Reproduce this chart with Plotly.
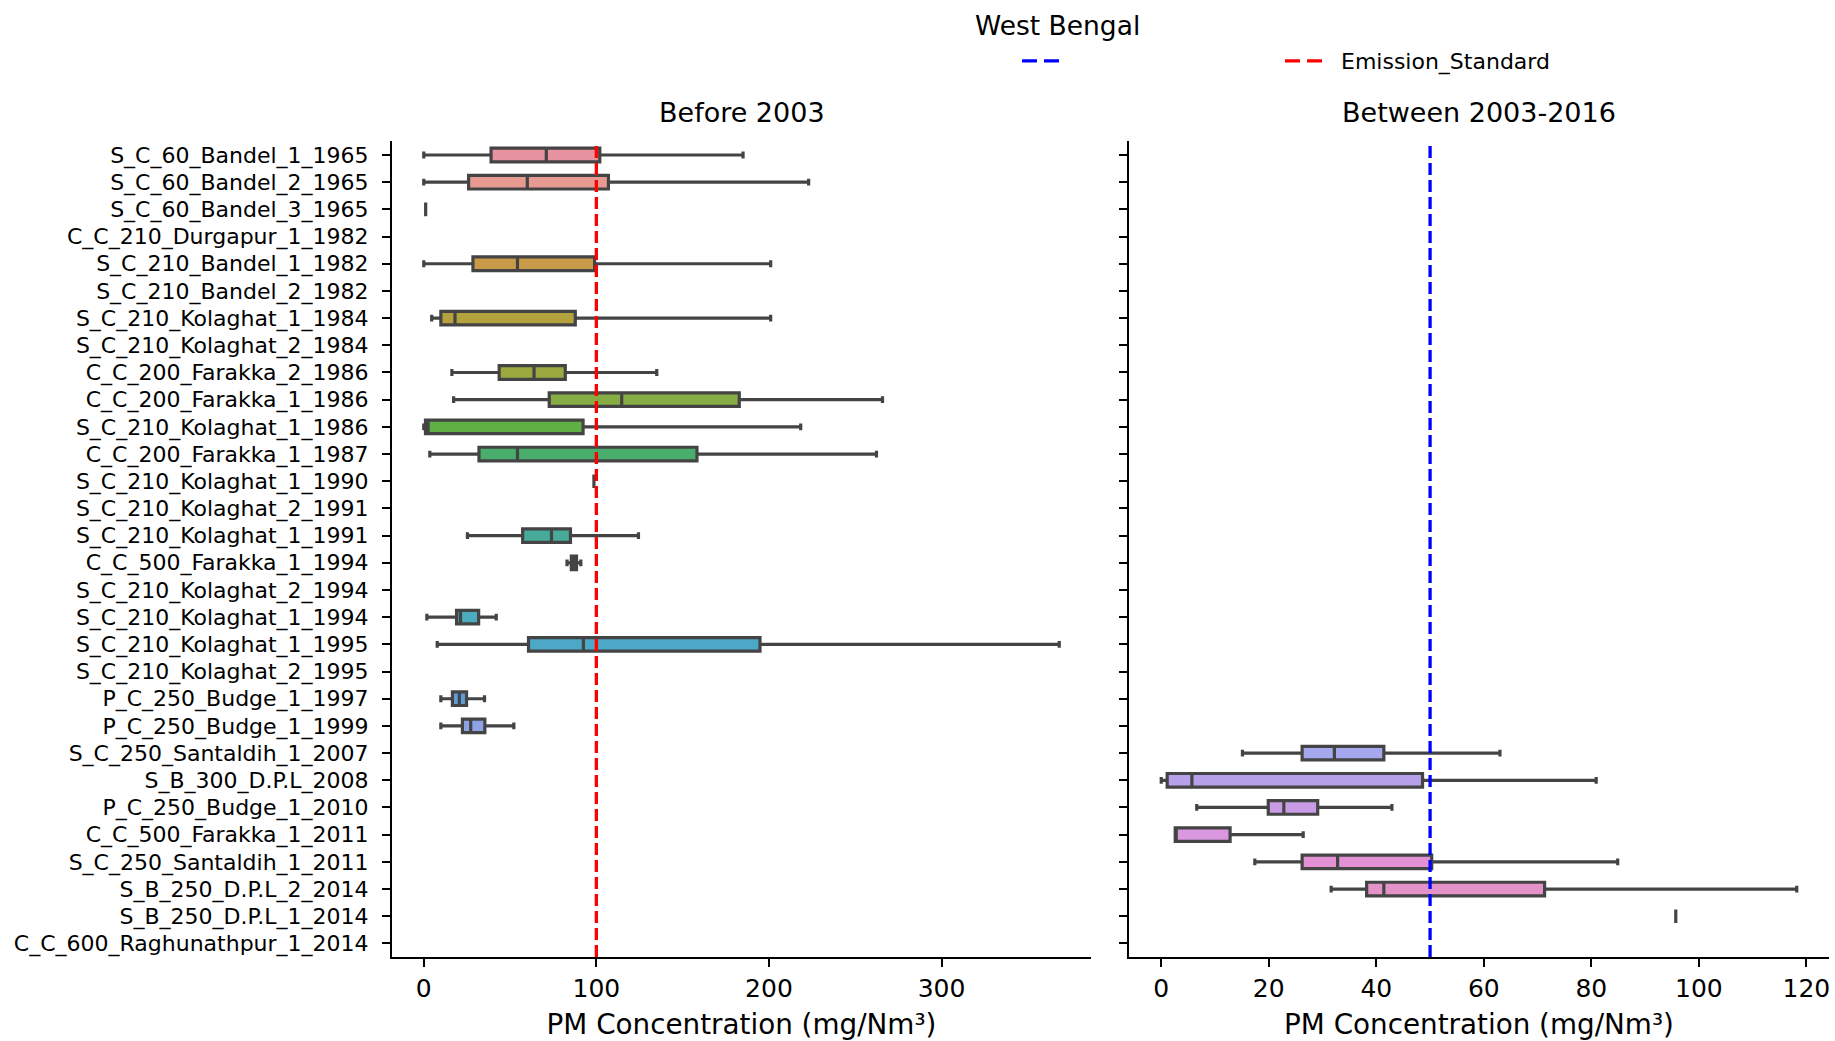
import plotly.graph_objects as go

# ---------------- data ----------------
UNITS = [
    "S_C_60_Bandel_1_1965", "S_C_60_Bandel_2_1965", "S_C_60_Bandel_3_1965",
    "C_C_210_Durgapur_1_1982", "S_C_210_Bandel_1_1982", "S_C_210_Bandel_2_1982",
    "S_C_210_Kolaghat_1_1984", "S_C_210_Kolaghat_2_1984", "C_C_200_Farakka_2_1986",
    "C_C_200_Farakka_1_1986", "S_C_210_Kolaghat_1_1986", "C_C_200_Farakka_1_1987",
    "S_C_210_Kolaghat_1_1990", "S_C_210_Kolaghat_2_1991", "S_C_210_Kolaghat_1_1991",
    "C_C_500_Farakka_1_1994", "S_C_210_Kolaghat_2_1994", "S_C_210_Kolaghat_1_1994",
    "S_C_210_Kolaghat_1_1995", "S_C_210_Kolaghat_2_1995", "P_C_250_Budge_1_1997",
    "P_C_250_Budge_1_1999", "S_C_250_Santaldih_1_2007", "S_B_300_D.P.L_2008",
    "P_C_250_Budge_1_2010", "C_C_500_Farakka_1_2011", "S_C_250_Santaldih_1_2011",
    "S_B_250_D.P.L_2_2014", "S_B_250_D.P.L_1_2014", "C_C_600_Raghunathpur_1_2014",
]

# Before 2003 (rows 0-21); None = no data
BEFORE_LOW  = [0, 0, 1.1, None, 0, None, 4.6, None, 16.3, 17.3, 0, 3.5, 98.6, None, 25.3, 83, None, 1.8, 7.8, None, 9.9, 9.9]
BEFORE_Q1   = [39, 26, 1.1, None, 28.5, None, 9.9, None, 43.7, 72.7, 1, 32, 98.6, None, 57.3, 85.5, None, 19.0, 60.7, None, 16.6, 22.4]
BEFORE_MED  = [71, 60, 1.1, None, 54.3, None, 18.1, None, 63.9, 114.7, 2.5, 54.3, 98.6, None, 74, 87, None, 21.3, 92.5, None, 20.6, 27.2]
BEFORE_Q3   = [102, 107, 1.1, None, 99, None, 87.8, None, 82, 182.8, 92.3, 158.3, 98.6, None, 85, 88.5, None, 31.8, 194.8, None, 24.8, 35.4]
BEFORE_HIGH = [185, 223, 1.1, None, 201, None, 201, None, 135, 265.8, 218.4, 262.3, 98.6, None, 124.4, 91, None, 42.0, 368.2, None, 35.2, 52.2]

# Between 2003-2016 (rows 22-29)
AFTER_LOW  = [15.1, 0, 6.6, 2.6, 17.4, 31.6, 95.7, None]
AFTER_Q1   = [26.2, 1.1, 19.9, 2.6, 26.2, 38.2, 95.7, None]
AFTER_MED  = [32.2, 5.7, 22.8, 2.6, 32.8, 41.4, 95.7, None]
AFTER_Q3   = [41.4, 48.6, 29.1, 12.8, 50.3, 71.3, 95.7, None]
AFTER_HIGH = [63, 80.9, 42.9, 26.4, 84.9, 118.2, 95.7, None]

STANDARD_BEFORE = 100
STANDARD_AFTER = 50

X_TICKS_LEFT = [0, 100, 200, 300]
X_TICKS_RIGHT = [0, 20, 40, 60, 80, 100, 120]

# ---------------- style ----------------
PALETTE = [
    "#e6939f", "#e69a91", "#e09c7c", "#d89d64", "#c99a48", "#bf9f3f",
    "#b3a23d", "#a7a63e", "#9ca93f", "#86ad43", "#5eb045", "#49ad6b",
    "#48ac80", "#47ac8e", "#47ab9a", "#48aba6", "#49abb1", "#4aacbc",
    "#4ca8c6", "#55a3d2", "#5f9dd8", "#8ea2e6", "#a5a8ec", "#b7a0ea",
    "#c99be6", "#d897df", "#e391d5", "#e592c8", "#e693b8", "#e694aa",
]
EDGE = "#444444"
FONT = "DejaVu Sans"
W, H = 1835, 1041

fig = go.Figure()

# register all categories
fig.add_trace(go.Scatter(x=[None] * len(UNITS), y=UNITS, mode="markers",
                         showlegend=False, hoverinfo="skip", xaxis="x", yaxis="y"))
fig.add_trace(go.Scatter(x=[None] * len(UNITS), y=UNITS, mode="markers",
                         showlegend=False, hoverinfo="skip", xaxis="x2", yaxis="y2"))


def add_boxes(names, offset, lo, q1, md, q3, hi, xa, ya):
    for i, name in enumerate(names):
        if lo[i] is None:
            continue
        fig.add_trace(go.Box(
            y=[name], q1=[q1[i]], median=[md[i]], q3=[q3[i]],
            lowerfence=[lo[i]], upperfence=[hi[i]],
            orientation="h", boxpoints=False,
            fillcolor=PALETTE[offset + i],
            line=dict(color=EDGE, width=3.2),
            width=0.5, whiskerwidth=0.5,
            showlegend=False, xaxis=xa, yaxis=ya, name=name,
        ))


n_before = len(BEFORE_LOW)
add_boxes(UNITS[:n_before], 0, BEFORE_LOW, BEFORE_Q1, BEFORE_MED, BEFORE_Q3, BEFORE_HIGH, "x", "y")
add_boxes(UNITS[n_before:], n_before, AFTER_LOW, AFTER_Q1, AFTER_MED, AFTER_Q3, AFTER_HIGH, "x2", "y2")

DASH = "12px,5px"
LEGEND_DASH = "15px,7px"
NBSP = "\u00a0"
# legend entries
fig.add_trace(go.Scatter(x=[None], y=[None], mode="lines", name="",
                         line=dict(color="blue", width=3.3, dash=LEGEND_DASH),
                         showlegend=True, legendwidth=211, xaxis="x2", yaxis="y2"))
fig.add_trace(go.Scatter(x=[None], y=[None], mode="lines",
                         name=NBSP * 2 + "Emission_Standard",
                         line=dict(color="red", width=3.3, dash=LEGEND_DASH),
                         showlegend=True, legendwidth=250, xaxis="x", yaxis="y"))

fig.add_shape(type="line", x0=STANDARD_BEFORE, x1=STANDARD_BEFORE, xref="x",
              y0=0, y1=1, yref="y domain", line=dict(color="red", width=3.3, dash=DASH))
fig.add_shape(type="line", x0=STANDARD_AFTER, x1=STANDARD_AFTER, xref="x2",
              y0=0, y1=1, yref="y2 domain", line=dict(color="blue", width=3.3, dash=DASH))

axis_common = dict(showline=True, linecolor="black", linewidth=2, ticks="outside",
                   ticklen=8, tickwidth=2, tickcolor="black", showgrid=False,
                   zeroline=False, mirror=False)

xl = (392 / W, 1091 / W)
xr = (1129 / W, 1829 / W)
yd = (1 - 957 / H, 1 - 141.4 / H)

fig.update_layout(
    width=W, height=H, autosize=False,
    margin=dict(l=0, r=0, t=0, b=0),
    paper_bgcolor="white", plot_bgcolor="white",
    font=dict(family=FONT, color="black", size=22),
    boxmode="overlay",
    xaxis=dict(domain=list(xl), range=[-18.4, 386.6], tickvals=X_TICKS_LEFT,
               anchor="y", tickfont=dict(size=25),
               title=dict(text="PM Concentration (mg/Nm³)", font=dict(size=27.8), standoff=16),
               **axis_common),
    xaxis2=dict(domain=list(xr), range=[-6.0, 124.2], tickvals=X_TICKS_RIGHT,
                anchor="y2", tickfont=dict(size=25),
                title=dict(text="PM Concentration (mg/Nm³)", font=dict(size=27.8), standoff=16),
                **axis_common),
    yaxis=dict(domain=list(yd), anchor="x", type="category",
               categoryorder="array", categoryarray=UNITS,
               range=[len(UNITS) - 0.5, -0.5], tickfont=dict(size=22),
               ticklabelstandoff=9, **axis_common),
    yaxis2=dict(domain=list(yd), anchor="x2", type="category", matches="y",
                categoryorder="array", categoryarray=UNITS,
                showticklabels=False, **axis_common),
    legend=dict(orientation="h", x=1017 / W, xanchor="left", y=1 - 61 / H, yanchor="middle",
                itemwidth=37, font=dict(size=22),
                bgcolor="rgba(0,0,0,0)", itemclick=False, itemdoubleclick=False),
    annotations=[
        dict(text="West Bengal", x=1057 / W, y=1 - 25 / H, xref="paper", yref="paper",
             showarrow=False, font=dict(size=26.5), xanchor="center", yanchor="middle"),
        dict(text="Before 2003", x=(xl[0] + xl[1]) / 2, y=1 - 113 / H, xref="paper", yref="paper",
             showarrow=False, font=dict(size=27), xanchor="center", yanchor="middle"),
        dict(text="Between 2003-2016", x=(xr[0] + xr[1]) / 2, y=1 - 113 / H, xref="paper",
             yref="paper", showarrow=False, font=dict(size=27), xanchor="center", yanchor="middle"),
    ],
)

fig.write_html("out.html", config={"displayModeBar": False},
               post_script="document.body.style.margin='0px';document.body.style.overflow='hidden';")
